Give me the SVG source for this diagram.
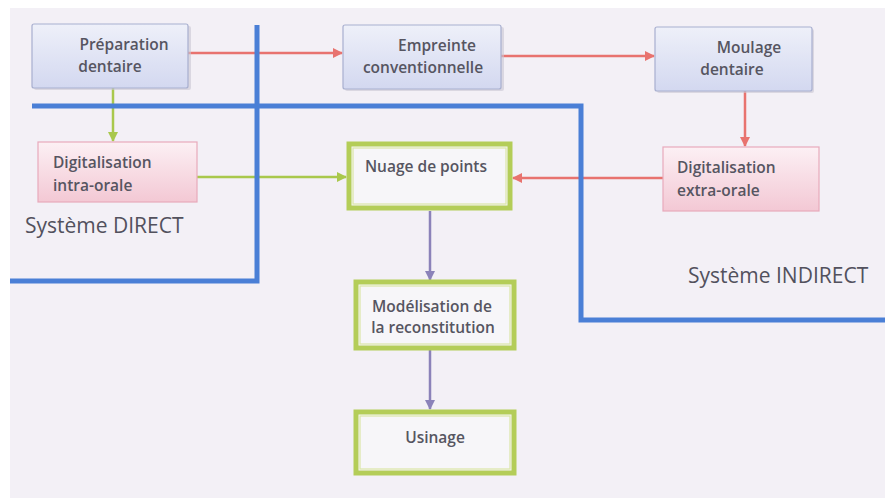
<svg xmlns="http://www.w3.org/2000/svg" width="885" height="498" viewBox="0 0 885 498">
  <defs>
    <linearGradient id="gBlue" x1="0" y1="0" x2="0" y2="1">
      <stop offset="0" stop-color="#eef0f9"/>
      <stop offset="1" stop-color="#d3d8f0"/>
    </linearGradient>
    <linearGradient id="gPink" x1="0" y1="0" x2="0" y2="1">
      <stop offset="0" stop-color="#fcf0f4"/>
      <stop offset="1" stop-color="#f3c8d4"/>
    </linearGradient>
    <marker id="arRed" viewBox="0 0 10 10" refX="9" refY="5" markerWidth="4" markerHeight="4" orient="auto" markerUnits="strokeWidth">
      <path d="M0,0 L10,5 L0,10 z" fill="#e8736f"/>
    </marker>
    <marker id="arGreen" viewBox="0 0 10 10" refX="9" refY="5" markerWidth="4" markerHeight="4" orient="auto" markerUnits="strokeWidth">
      <path d="M0,0 L10,5 L0,10 z" fill="#a9c84c"/>
    </marker>
    <marker id="arPurple" viewBox="0 0 10 10" refX="9" refY="5" markerWidth="4" markerHeight="4" orient="auto" markerUnits="strokeWidth">
      <path d="M0,0 L10,5 L0,10 z" fill="#8b82b9"/>
    </marker>
  </defs>
  <style>
    text { font-family: "Open Sans", "Liberation Sans", sans-serif; fill: #565561; font-size: 15.5px; font-weight: 600; }
    .sys { font-size: 21px; font-weight: 400; fill: #52515d; }
    .boxBlue { fill: url(#gBlue); stroke: #a8afcf; stroke-width: 1.2; }
    .boxPink { fill: url(#gPink); stroke: #e8aabb; stroke-width: 1.2; }
    .boxGreen { fill: #f7f6f9; stroke: #b4cd58; stroke-width: 5; }
    .boxGreenIn { fill: none; stroke: #dbe7a6; stroke-width: 1.2; }
    .shadow { fill: #c9c6d3; opacity: 0.6; }
    .red { stroke: #e8736f; stroke-width: 2.5; fill: none; marker-end: url(#arRed); }
    .green { stroke: #a9c84c; stroke-width: 2.5; fill: none; marker-end: url(#arGreen); }
    .purple { stroke: #8b82b9; stroke-width: 2.5; fill: none; marker-end: url(#arPurple); }
    .wall { stroke: #4a7fd6; stroke-width: 5; fill: none; }
  </style>

  <!-- page -->
  <rect x="0" y="0" width="885" height="498" fill="#ffffff"/>
  <rect x="10" y="8" width="875" height="490" fill="#f3f0f6"/>

  <!-- connectors -->
  <g id="connectors">
    <path class="red" d="M188,53 H342"/>
    <path class="red" d="M501,56 H654"/>
    <path class="red" d="M745,91 V146"/>
    <path class="red" d="M663,178 H513"/>
    <path class="green" d="M113,88 V141"/>
    <path class="green" d="M197,177 H346"/>
    <path class="purple" d="M430,211 V280"/>
    <path class="purple" d="M430,350 V409"/>
  </g>

  <!-- system boundaries -->
  <g id="boundaries">
    <path class="wall" d="M257,25 V281 H10"/>
    <path class="wall" d="M32,106 H581 V320 H885"/>
  </g>

  <g id="preparation">
    <rect class="shadow" x="34" y="26" width="157" height="64" rx="2"/>
    <rect class="boxBlue" x="32" y="24" width="156" height="64" rx="2"/>
    <text x="124" y="50" text-anchor="middle">Préparation</text>
    <text x="110" y="72" text-anchor="middle">dentaire</text>
  </g>

  <g id="empreinte">
    <rect class="shadow" x="345" y="27" width="159" height="64" rx="2"/>
    <rect class="boxBlue" x="343" y="25" width="158" height="64" rx="2"/>
    <text x="437" y="51" text-anchor="middle">Empreinte</text>
    <text x="423" y="73" text-anchor="middle">conventionnelle</text>
  </g>

  <g id="moulage">
    <rect class="shadow" x="657" y="29" width="157" height="64" rx="2"/>
    <rect class="boxBlue" x="655" y="27" width="157" height="64" rx="2"/>
    <text x="749" y="53" text-anchor="middle">Moulage</text>
    <text x="732" y="75" text-anchor="middle">dentaire</text>
  </g>

  <g id="digit-intra">
    <rect class="boxPink" x="38" y="142" width="159" height="60"/>
    <text x="53" y="168">Digitalisation</text>
    <text x="53" y="191">intra-orale</text>
  </g>

  <g id="digit-extra">
    <rect class="boxPink" x="663" y="147" width="156" height="64"/>
    <text x="677" y="173">Digitalisation</text>
    <text x="677" y="196">extra-orale</text>
  </g>

  <g id="nuage">
    <rect class="boxGreen" x="349" y="144" width="161" height="64"/>
    <rect class="boxGreenIn" x="353" y="148" width="153" height="56"/>
    <text x="426" y="172" text-anchor="middle">Nuage de points</text>
  </g>

  <g id="modelisation">
    <rect class="boxGreen" x="356" y="282" width="158" height="66"/>
    <rect class="boxGreenIn" x="360" y="286" width="150" height="58"/>
    <text x="432" y="312" text-anchor="middle">Modélisation de</text>
    <text x="433" y="333" text-anchor="middle">la reconstitution</text>
  </g>

  <g id="usinage">
    <rect class="boxGreen" x="356" y="412" width="158" height="61"/>
    <rect class="boxGreenIn" x="360" y="416" width="150" height="53"/>
    <text x="435" y="443" text-anchor="middle">Usinage</text>
  </g>

  <g id="labels">
    <text class="sys" x="25" y="233">Système DIRECT</text>
    <text class="sys" x="688" y="283">Système INDIRECT</text>
  </g>
</svg>
